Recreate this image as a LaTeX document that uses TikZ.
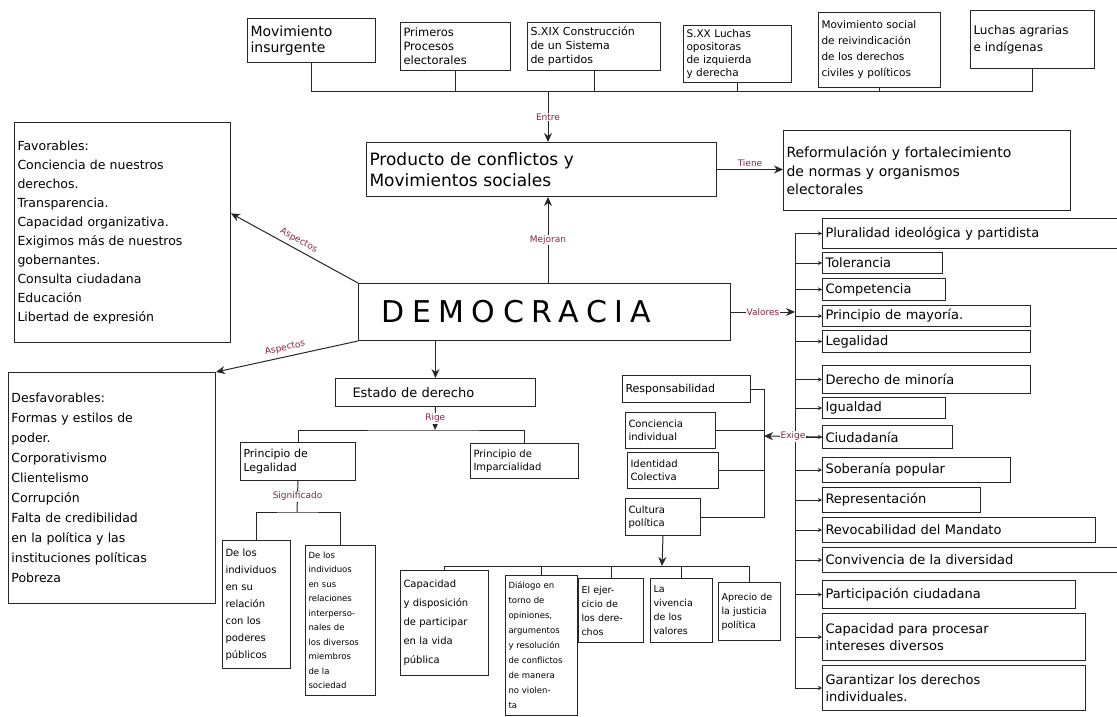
\documentclass[tikz,border=0pt]{standalone}
\usepackage{fontspec}
\setmainfont{DejaVu Sans}
\usetikzlibrary{arrows.meta}
\definecolor{vino}{RGB}{140,35,65}
\newcommand{\fz}[2]{\fontsize{#1}{#2}\selectfont}

\begin{document}
\begin{tikzpicture}[x=1pt, y=-1pt,
        box/.style={draw=black!85, line width=1pt, anchor=north west, align=left, inner xsep=3pt, inner ysep=2pt},
        lbl/.style={text=vino, fill=white, inner sep=1pt, font=\fz{9}{10}},
        wire/.style={draw=black!85, line width=1pt},
        arr/.style={wire, ->, >={Stealth[length=9pt,width=8pt]}},
        tick/.style={draw=black!85, line width=0.8pt, ->, >={Stealth[length=4pt,width=4pt]}}]
        \useasboundingbox[fill=white] (0,0) rectangle (1117,717);

        % antecedentes
        \node[box, text width=122pt, minimum height=44pt, font=\fz{14}{16}] (mov) at (247,18) {Movimiento\\insurgente};
        \node[box, text width=104pt, minimum height=48pt, font=\fz{11.5}{14}] (pri) at (400,22) {Primeros\\Procesos\\electorales};
        \node[box, text width=127pt, minimum height=48pt, font=\fz{11}{14}] (sxix) at (527,22) {S.XIX Construcción\\de un Sistema\\de partidos};
        \node[box, text width=102pt, minimum height=57pt, font=\fz{10.5}{13}] (sxx) at (683,25) {S.XX Luchas\\opositoras\\de izquierda\\y derecha};
        \node[box, text width=116pt, minimum height=75pt, font=\fz{10.5}{16}] (rei) at (818,12) {Movimiento social\\de reivindicación\\de los derechos\\civiles y políticos};
        \node[box, text width=118pt, minimum height=58pt, font=\fz{12}{17}] (agr) at (970,10) {Luchas agrarias\\e indígenas};

        % centro
        \node[box, text width=344pt, minimum height=54pt, font=\fz{17}{21}] (prod) at (366,142) {Producto de conflictos y\\Movimientos sociales};
        \node[box, text width=281pt, minimum height=80pt, font=\fz{14}{19}] (ref) at (783,130) {Reformulación y fortalecimiento\\de normas y organismos\\electorales};
        \node[box, text width=366pt, minimum height=57pt, font=\fz{30}{34}\addfontfeatures{LetterSpace=25}] (demo) at (358,283) {\hspace*{20pt}DEMOCRACIA};

        % aspectos
        \node[box, text width=210pt, minimum height=220pt, font=\fz{12.5}{19}] (fav) at (14,122) {Favorables:\\Conciencia de nuestros\\derechos.\\Transparencia.\\Capacidad organizativa.\\Exigimos más de nuestros\\gobernantes.\\Consulta ciudadana\\Educación\\Libertad de expresión};
        \node[box, text width=201pt, minimum height=231pt, font=\fz{12.5}{20}] (desf) at (8,372) {Desfavorables:\\Formas y estilos de\\poder.\\Corporativismo\\Clientelismo\\Corrupción\\Falta de credibilidad\\en la política y las\\instituciones políticas\\Pobreza};

        % estado de derecho
        \node[box, text width=194pt, minimum height=28pt, font=\fz{13}{15}] (estado) at (335,378) {\hspace*{14pt}Estado de derecho};
        \node[box, text width=109pt, minimum height=38pt, font=\fz{11}{14}] (legal) at (240,442) {Principio de\\Legalidad};
        \node[box, text width=102pt, minimum height=35pt, font=\fz{10}{13}] (impar) at (470,443) {Principio de\\Imparcialidad};
        \node[box, text width=62pt, minimum height=128pt, font=\fz{10}{17}] (ind1) at (222,540) {De los\\individuos\\en su\\relación\\con los\\poderes\\públicos};
        \node[box, text width=64pt, minimum height=150pt, font=\fz{8.5}{14.5}] (ind2) at (305,545) {De los\\individuos\\en sus\\relaciones\\interperso-\\nales de\\los diversos\\miembros\\de la\\sociedad};

        % ciudadania
        \node[box, text width=122pt, minimum height=27pt, font=\fz{11}{13}] (resp) at (622,375) {Responsabilidad};
        \node[box, text width=84pt, minimum height=36pt, font=\fz{10}{13}] (conc) at (625,412) {Conciencia\\individual};
        \node[box, text width=85pt, minimum height=36pt, font=\fz{10}{13}] (ident) at (627,452) {Identidad\\Colectiva};
        \node[box, text width=69pt, minimum height=37pt, font=\fz{10}{13}] (cult) at (625,498) {Cultura\\política};
        \node[box, text width=82pt, minimum height=105pt, font=\fz{10}{19}] (b1) at (400,570) {Capacidad\\y disposición\\de participar\\en la vida\\pública};
        \node[box, text width=66pt, minimum height=140pt, font=\fz{8.5}{15}] (b2) at (505,575) {Diálogo en\\torno de\\opiniones,\\argumentos\\y resolución\\de conflictos\\de manera\\no violen-\\ta};
        \node[box, text width=59pt, minimum height=64pt, font=\fz{9.5}{14}] (b3) at (578,578) {El ejer-\\cicio de\\los dere-\\chos};
        \node[box, text width=56pt, minimum height=64pt, font=\fz{9.5}{14}] (b4) at (650,578) {La\\vivencia\\de los\\valores};
        \node[box, text width=56pt, minimum height=58pt, font=\fz{9.5}{14}] (b5) at (718,582) {Aprecio de\\la justicia\\política};

        % valores
        \begin{scope}[every node/.append style={box, font=\fz{13}{17}}]
                \node[text width=294pt, minimum height=30pt] (v1) at (822,218) {Pluralidad ideológica y partidista};
                \node[text width=114pt, minimum height=21pt] (v2) at (822,252) {Tolerancia};
                \node[text width=117pt, minimum height=22pt] (v3) at (822,278) {Competencia};
                \node[text width=202pt, minimum height=21pt] (v4) at (822,305) {Principio de mayoría.};
                \node[text width=202pt, minimum height=22pt] (v5) at (822,330) {Legalidad};
                \node[text width=202pt, minimum height=28pt] (v6) at (822,365) {Derecho de minoría};
                \node[text width=117pt, minimum height=21pt] (v7) at (822,397) {Igualdad};
                \node[text width=124pt, minimum height=23pt] (v8) at (822,425) {Ciudadanía};
                \node[text width=182pt, minimum height=25pt] (v9) at (822,457) {Soberanía popular};
                \node[text width=152pt, minimum height=25pt] (v10) at (822,487) {Representación};
                \node[text width=267pt, minimum height=25pt] (v11) at (822,517) {Revocabilidad del Mandato};
                \node[text width=294pt, minimum height=25pt] (v12) at (822,547) {Convivencia de la diversidad};
                \node[text width=247pt, minimum height=28pt] (v13) at (822,580) {Participación ciudadana};
                \node[text width=257pt, minimum height=47pt] (v14) at (822,613) {Capacidad para procesar\\intereses diversos};
                \node[text width=257pt, minimum height=45pt] (v15) at (822,665) {Garantizar los derechos\\individuales.};
        \end{scope}

        % conectores
        \coordinate (entre) at (548,92);
        \foreach \n in {mov,pri,sxix,sxx,rei,agr}
                \draw[wire] (\n.south) -- (\n.south |- entre);
        \draw[wire] (mov.south |- entre) -- (agr.south |- entre);
        \draw[arr] (entre) -- node[lbl]{Entre} (entre |- prod.north);
        \draw[arr] (demo.north -| entre) -- node[lbl]{Mejoran} (prod.south -| entre);
        \draw[arr] (prod.east) -- node[lbl, above=1pt, fill=none]{Tiene} (prod.east -| ref.west);
        \draw[arr] (demo.north west) -- node[lbl, sloped, above=3pt, fill=none]{Aspectos} (fav.10);
        \draw[arr] (demo.south west) -- node[lbl, sloped, above=3pt, fill=none]{Aspectos} (desf.north east);

        \draw[arr] (demo.south -| estado.north) -- (estado.north);
        \coordinate (rige) at (435,430);
        \draw[arr] (estado.south) -- node[lbl]{Rige} (rige);
        \draw[wire] (legal.north) |- (rige) -| (impar.north);
        \coordinate (sig) at (297,512);
        \draw[wire] (legal.south) -- node[lbl]{Significado} (sig);
        \draw[wire] (ind1.north) |- (sig) -| (ind2.north);

        \coordinate (exg) at (764,436);
        \draw[wire] (resp.east) -| (exg |- cult.east) -- (cult.east);
        \draw[wire] (conc.east) -- (conc.east -| exg);
        \draw[wire] (ident.east) -- (ident.east -| exg);
        \coordinate (cbus) at (662,566);
        \draw[arr] (cult.south) -- (cbus);
        \draw[wire] (b1.north) |- (b5.north |- cbus) -- (b5.north);
        \foreach \n in {b2,b3,b4}
                \draw[wire] (\n.north) -- (\n.north |- cbus);

        \coordinate (vbar) at (795,306);
        \draw[arr] (demo.east) -- node[lbl]{Valores} (demo.east -| vbar);
        \draw[wire] (vbar |- v1.west) -- (vbar |- v15.west);
        \foreach \n in {1,...,15}
                \draw[tick] (vbar |- v\n.west) -- (v\n.west);
        \draw[arr] (v8.west) -- node[lbl]{Exige} (exg);
\end{tikzpicture}
\end{document}
